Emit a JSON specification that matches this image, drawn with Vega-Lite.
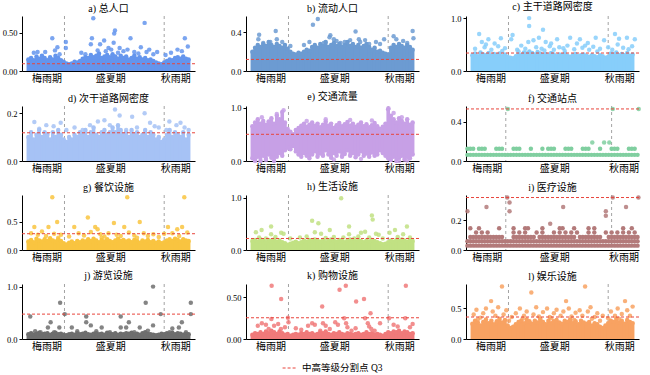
{
"$schema": "https://vega.github.io/schema/vega-lite/v6.json",
"padding": {"left": 2, "top": 2, "right": 2, "bottom": 0},
"config": {
 "font": "Liberation Serif, Noto Sans CJK SC",
 "view": {"stroke": null},
 "axis": {"domainColor": "#000", "domainWidth": 1, "tickColor": "#000", "labelColor": "#000", "grid": false, "labelFontSize": 8.5, "labelFont": "Liberation Serif, Noto Sans CJK SC"},
 "axisX": {"ticks": false, "labelPadding": 2, "labelFontSize": 10},
 "axisY": {"tickSize": 3, "labelPadding": 2},
 "title": {"fontSize": 10, "fontWeight": "normal", "offset": 2, "font": "Liberation Serif, Noto Sans CJK SC", "color": "#000"},
 "legend": {"orient": "none", "legendX": 260, "legendY": 344, "direction": "horizontal", "symbolType": "stroke", "symbolDash": [3, 2], "symbolStrokeWidth": 1, "symbolSize": 220, "labelFontSize": 9.5, "labelFont": "Liberation Serif, Noto Sans CJK SC"}
},
"datasets": {
 "sep": [{"t": 13.3}, {"t": 50}],
 "thr": [
  {"p": "a", "v": 0.095, "k": "中高等级分割点 Q3"}, {"p": "b", "v": 0.12, "k": "中高等级分割点 Q3"}, {"p": "c", "v": 0.34, "k": "中高等级分割点 Q3"},
  {"p": "d", "v": 0.118, "k": "中高等级分割点 Q3"}, {"p": "e", "v": 0.5, "k": "中高等级分割点 Q3"}, {"p": "f", "v": 0.53, "k": "中高等级分割点 Q3"},
  {"p": "g", "v": 0.29, "k": "中高等级分割点 Q3"}, {"p": "h", "v": 0.22, "k": "中高等级分割点 Q3"}, {"p": "i", "v": 0.353, "k": "中高等级分割点 Q3"},
  {"p": "j", "v": 0.475, "k": "中高等级分割点 Q3"}, {"p": "k", "v": 0.255, "k": "中高等级分割点 Q3"}, {"p": "l", "v": 0.36, "k": "中高等级分割点 Q3"}
 ],
 "band": [
  {"t":0,"a":0.15,"b":0.2,"c":0.3,"d":0.1,"e":0.65,"e0":0.05,"g":0.15,"h":0.17,"j":0.09,"k":0.05,"l":0.25,"f2":0.125},
  {"t":1,"a":0.17,"b":0.24,"c":0.33,"d":0.12,"e":0.72,"e0":0.02,"g":0.18,"h":0.19,"j":0.11,"k":0.07,"l":0.3,"f2":0.125,"i3":0.088,"i5":0.147},
  {"t":2,"a":0.14,"b":0.27,"c":0.28,"d":0.09,"e":0.78,"e0":0.08,"g":0.14,"h":0.16,"j":0.08,"k":0.06,"l":0.27,"f2":0.125,"i3":0.088},
  {"t":3,"a":0.19,"b":0.25,"c":0.35,"d":0.11,"e":0.7,"e0":0,"g":0.2,"h":0.2,"j":0.1,"k":0.08,"l":0.22,"i3":0.088,"i4":0.118},
  {"t":4,"a":0.16,"b":0.28,"c":0.31,"d":0.13,"e":0.75,"e0":0.1,"g":0.17,"h":0.18,"j":0.12,"k":0.06,"l":0.28,"f2":0.125,"i3":0.088,"i5":0.147},
  {"t":5,"a":0.2,"b":0.26,"c":0.3,"d":0.1,"e":0.68,"e0":0.04,"g":0.15,"h":0.15,"j":0.09,"k":0.09,"l":0.32,"f2":0.125,"i3":0.088,"i4":0.118},
  {"t":6,"a":0.17,"b":0.3,"c":0.34,"d":0.12,"e":0.74,"e0":0.12,"g":0.19,"h":0.19,"j":0.1,"k":0.07,"l":0.26,"f2":0.125,"i3":0.088},
  {"t":7,"a":0.14,"b":0.27,"c":0.29,"d":0.11,"e":0.8,"e0":0.06,"g":0.16,"h":0.17,"j":0.11,"k":0.1,"l":0.3,"i3":0.088,"i4":0.118},
  {"t":8,"a":0.18,"b":0.25,"c":0.32,"d":0.09,"e":0.7,"e0":0,"g":0.21,"h":0.2,"j":0.08,"k":0.08,"l":0.24,"i3":0.088},
  {"t":9,"a":0.15,"b":0.28,"c":0.3,"d":0.12,"e":0.85,"e0":0.08,"g":0.17,"h":0.16,"j":0.1,"k":0.06,"l":0.29,"i3":0.088},
  {"t":10,"a":0.2,"b":0.26,"c":0.33,"d":0.1,"e":0.78,"e0":0.15,"g":0.15,"h":0.18,"j":0.12,"k":0.09,"l":0.33,"f2":0.125,"i3":0.088},
  {"t":11,"a":0.17,"b":0.24,"c":0.28,"d":0.13,"e":0.92,"e0":0.1,"g":0.19,"h":0.15,"j":0.09,"k":0.07,"l":0.27,"f2":0.125,"i3":0.088,"i5":0.147},
  {"t":12,"a":0.14,"b":0.27,"c":0.31,"d":0.11,"e":0.72,"e0":0.2,"g":0.16,"h":0.13,"j":0.1,"k":0.05,"l":0.31,"f2":0.125,"i3":0.088},
  {"t":13,"a":0.12,"b":0.23,"c":0.27,"d":0.09,"e":0.6,"e0":0.25,"g":0.12,"h":0.1,"j":0.08,"k":0.06,"l":0.22},
  {"t":14,"a":0.1,"b":0.2,"c":0.25,"d":0.08,"e":0.55,"e0":0.22,"g":0.1,"h":0.12,"j":0.07,"k":0.04,"l":0.18},
  {"t":15,"a":0.09,"b":0.18,"c":0.24,"d":0.1,"e":0.5,"e0":0.28,"g":0.13,"h":0.14,"j":0.09,"k":0.05,"l":0.2},
  {"t":16,"a":0.1,"b":0.17,"c":0.28,"d":0.09,"e":0.58,"e0":0.18,"g":0.15,"h":0.16,"j":0.1,"k":0.06,"l":0.24,"f2":0.125,"i3":0.088,"i4":0.118,"i5":0.147},
  {"t":17,"a":0.12,"b":0.19,"c":0.31,"d":0.11,"e":0.62,"e0":0.12,"g":0.12,"h":0.13,"j":0.08,"k":0.05,"l":0.28,"f2":0.125,"i3":0.088},
  {"t":18,"a":0.11,"b":0.18,"c":0.3,"d":0.1,"e":0.66,"e0":0.08,"g":0.16,"h":0.15,"j":0.11,"k":0.07,"l":0.3,"f2":0.125,"i3":0.088,"i4":0.118},
  {"t":19,"a":0.13,"b":0.2,"c":0.35,"d":0.12,"e":0.7,"e0":0.15,"g":0.14,"h":0.18,"j":0.09,"k":0.06,"l":0.26,"i3":0.088},
  {"t":20,"a":0.16,"b":0.22,"c":0.33,"d":0.11,"e":0.64,"e0":0.1,"g":0.17,"h":0.16,"j":0.1,"k":0.08,"l":0.32,"i3":0.088,"i4":0.118,"i5":0.147},
  {"t":21,"a":0.18,"b":0.21,"c":0.37,"d":0.13,"e":0.68,"e0":0.05,"g":0.15,"h":0.19,"j":0.12,"k":0.06,"l":0.29,"i3":0.088,"i5":0.147},
  {"t":22,"a":0.17,"b":0.25,"c":0.34,"d":0.1,"e":0.72,"e0":0.12,"g":0.19,"h":0.17,"j":0.09,"k":0.07,"l":0.25,"f2":0.125,"i3":0.088},
  {"t":23,"a":0.21,"b":0.27,"c":0.31,"d":0.12,"e":0.66,"e0":0.18,"g":0.16,"h":0.2,"j":0.08,"k":0.05,"l":0.3,"i3":0.088},
  {"t":24,"a":0.18,"b":0.24,"c":0.36,"d":0.14,"e":0.7,"e0":0.08,"g":0.2,"h":0.18,"j":0.1,"k":0.06,"l":0.27,"i4":0.118},
  {"t":25,"a":0.2,"b":0.28,"c":0.33,"d":0.11,"e":0.63,"e0":0.14,"g":0.17,"h":0.16,"j":0.11,"k":0.08,"l":0.33,"i3":0.088},
  {"t":26,"a":0.23,"b":0.26,"c":0.3,"d":0.1,"e":0.68,"e0":0.1,"g":0.14,"h":0.19,"j":0.09,"k":0.07,"l":0.28,"f2":0.125,"i3":0.088,"i4":0.118,"i5":0.147},
  {"t":27,"a":0.17,"b":0.3,"c":0.32,"d":0.12,"e":0.74,"e0":0.2,"g":0.18,"h":0.15,"j":0.1,"k":0.09,"l":0.24,"i3":0.088},
  {"t":28,"a":0.19,"b":0.25,"c":0.29,"d":0.13,"e":0.66,"e0":0.12,"g":0.15,"h":0.17,"j":0.08,"k":0.06,"l":0.3,"f2":0.125,"i3":0.088},
  {"t":29,"a":0.21,"b":0.27,"c":0.34,"d":0.11,"e":0.7,"e0":0.06,"g":0.19,"h":0.2,"j":0.12,"k":0.05,"l":0.26,"f2":0.125,"i3":0.088},
  {"t":30,"a":0.18,"b":0.29,"c":0.31,"d":0.12,"e":0.62,"e0":0.15,"g":0.16,"h":0.18,"j":0.1,"k":0.07,"l":0.29,"f2":0.125,"i3":0.088,"i4":0.118},
  {"t":31,"a":0.22,"b":0.26,"c":0.28,"d":0.14,"e":0.67,"e0":0.1,"g":0.14,"h":0.16,"j":0.09,"k":0.06,"l":0.31,"i3":0.088},
  {"t":32,"a":0.19,"b":0.28,"c":0.31,"d":0.12,"e":0.71,"e0":0.18,"g":0.17,"h":0.19,"j":0.11,"k":0.08,"l":0.27,"i3":0.088,"i4":0.118,"i5":0.147},
  {"t":33,"a":0.16,"b":0.25,"c":0.3,"d":0.15,"e":0.65,"e0":0.08,"g":0.2,"h":0.17,"j":0.08,"k":0.06,"l":0.25,"i3":0.088,"i5":0.147},
  {"t":34,"a":0.2,"b":0.27,"c":0.33,"d":0.13,"e":0.69,"e0":0.13,"g":0.16,"h":0.15,"j":0.1,"k":0.05,"l":0.3,"f2":0.125,"i3":0.088,"i4":0.118},
  {"t":35,"a":0.17,"b":0.3,"c":0.29,"d":0.11,"e":0.73,"e0":0.2,"g":0.18,"h":0.18,"j":0.09,"k":0.07,"l":0.28,"f2":0.125,"i3":0.088},
  {"t":36,"a":0.19,"b":0.26,"c":0.27,"d":0.12,"e":0.66,"e0":0.1,"g":0.15,"h":0.2,"j":0.11,"k":0.06,"l":0.32,"f2":0.125,"i3":0.088,"i4":0.118},
  {"t":37,"a":0.15,"b":0.28,"c":0.3,"d":0.1,"e":0.7,"e0":0.15,"g":0.17,"h":0.17,"j":0.1,"k":0.05,"l":0.26,"i3":0.088,"i5":0.147},
  {"t":38,"a":0.17,"b":0.25,"c":0.32,"d":0.13,"e":0.64,"e0":0.07,"g":0.14,"h":0.16,"j":0.12,"k":0.06,"l":0.29,"i4":0.118},
  {"t":39,"a":0.2,"b":0.27,"c":0.28,"d":0.11,"e":0.68,"e0":0.12,"g":0.18,"h":0.19,"j":0.09,"k":0.07,"l":0.24,"i3":0.088},
  {"t":40,"a":0.16,"b":0.24,"c":0.3,"d":0.12,"e":0.72,"e0":0.18,"g":0.16,"h":0.17,"j":0.1,"k":0.05,"l":0.3,"f2":0.125,"i3":0.088},
  {"t":41,"a":0.18,"b":0.26,"c":0.31,"d":0.1,"e":0.65,"e0":0.1,"g":0.13,"h":0.15,"j":0.08,"k":0.06,"l":0.27,"f2":0.125,"i3":0.088},
  {"t":42,"a":0.15,"b":0.28,"c":0.29,"d":0.11,"e":0.69,"e0":0.14,"g":0.17,"h":0.18,"j":0.11,"k":0.08,"l":0.25,"f2":0.125,"i3":0.088,"i4":0.118,"i5":0.147},
  {"t":43,"a":0.17,"b":0.25,"c":0.27,"d":0.13,"e":0.63,"e0":0.08,"g":0.15,"h":0.16,"j":0.13,"k":0.06,"l":0.28,"i3":0.088},
  {"t":44,"a":0.14,"b":0.22,"c":0.3,"d":0.1,"e":0.67,"e0":0.16,"g":0.18,"h":0.19,"j":0.1,"k":0.07,"l":0.22,"i3":0.088,"i4":0.118,"i5":0.147},
  {"t":45,"a":0.15,"b":0.24,"c":0.28,"d":0.12,"e":0.71,"e0":0.1,"g":0.14,"h":0.17,"j":0.09,"k":0.05,"l":0.26,"i3":0.088},
  {"t":46,"a":0.13,"b":0.2,"c":0.26,"d":0.11,"e":0.65,"e0":0.12,"g":0.16,"h":0.15,"j":0.08,"k":0.06,"l":0.24,"f2":0.125,"i3":0.088},
  {"t":47,"a":0.11,"b":0.21,"c":0.3,"d":0.09,"e":0.6,"e0":0.2,"g":0.13,"h":0.13,"j":0.07,"k":0.05,"l":0.2},
  {"t":48,"a":0.1,"b":0.19,"c":0.28,"d":0.1,"e":0.64,"e0":0.15,"g":0.15,"h":0.11,"j":0.08,"k":0.04,"l":0.18,"i4":0.118},
  {"t":49,"a":0.09,"b":0.18,"c":0.25,"d":0.08,"e":0.7,"e0":0.1,"g":0.12,"h":0.12,"j":0.1,"k":0.06,"l":0.22,"i3":0.088},
  {"t":50,"a":0.11,"b":0.17,"c":0.27,"d":0.09,"e":0.97,"e0":0.05,"g":0.14,"h":0.15,"j":0.09,"k":0.08,"l":0.26,"f2":0.125,"i3":0.088,"i4":0.118},
  {"t":51,"a":0.13,"b":0.24,"c":0.33,"d":0.11,"e":0.85,"e0":0.02,"g":0.17,"h":0.18,"j":0.11,"k":0.07,"l":0.3,"f2":0.125,"i3":0.088},
  {"t":52,"a":0.15,"b":0.27,"c":0.31,"d":0.13,"e":0.78,"e0":0.08,"g":0.19,"h":0.16,"j":0.1,"k":0.09,"l":0.28,"f2":0.125,"i3":0.088,"i4":0.118},
  {"t":53,"a":0.14,"b":0.25,"c":0.35,"d":0.1,"e":0.72,"e0":0,"g":0.16,"h":0.19,"j":0.12,"k":0.08,"l":0.33,"i3":0.088},
  {"t":54,"a":0.17,"b":0.28,"c":0.3,"d":0.12,"e":0.8,"e0":0.06,"g":0.2,"h":0.17,"j":0.09,"k":0.1,"l":0.27,"i3":0.088,"i4":0.118,"i5":0.147},
  {"t":55,"a":0.18,"b":0.26,"c":0.32,"d":0.11,"e":0.75,"e0":0.1,"g":0.18,"h":0.2,"j":0.11,"k":0.07,"l":0.3,"i3":0.088},
  {"t":56,"a":0.16,"b":0.24,"c":0.3,"d":0.1,"e":0.7,"e0":0.03,"g":0.15,"h":0.18,"j":0.1,"k":0.09,"l":0.25,"f2":0.125,"i3":0.088,"i4":0.118},
  {"t":57,"a":0.19,"b":0.27,"c":0.34,"d":0.12,"e":0.78,"e0":0.08,"g":0.19,"h":0.16,"j":0.08,"k":0.08,"l":0.31,"f2":0.125,"i3":0.088,"i5":0.147},
  {"t":58,"a":0.16,"b":0.25,"c":0.29,"d":0.09,"e":0.68,"e0":0.05,"g":0.17,"h":0.19,"j":0.1,"k":0.06,"l":0.28,"f2":0.125,"i3":0.088,"i4":0.118},
  {"t":59,"a":0.15,"b":0.22,"c":0.31,"d":0.11,"e":0.72,"e0":0.12,"g":0.16,"h":0.17,"j":0.09,"k":0.07,"l":0.26,"i3":0.088}
 ],
 "pts": [
  {"p":"a","t":8.8,"v":0.43},{"p":"a","t":10.7,"v":0.31},{"p":"a","t":13.8,"v":0.38},{"p":"a","t":13.8,"v":0.3},{"p":"a","t":23.9,"v":0.69},{"p":"a","t":31.9,"v":0.53},{"p":"a","t":31.6,"v":0.49},{"p":"a","t":31.4,"v":0.37},{"p":"a","t":23.4,"v":0.43},{"p":"a","t":23,"v":0.35},{"p":"a","t":26.4,"v":0.35},{"p":"a","t":27.9,"v":0.4},{"p":"a","t":37.6,"v":0.43},{"p":"a","t":42.8,"v":0.63},{"p":"a","t":44.5,"v":0.28},{"p":"a","t":41.4,"v":0.31},{"p":"a","t":47.4,"v":0.25},{"p":"a","t":57.6,"v":0.43},{"p":"a","t":58.7,"v":0.32},{"p":"a","t":54.9,"v":0.28},{"p":"a","t":6.2,"v":0.25},{"p":"a","t":3.4,"v":0.25},{"p":"a","t":33.6,"v":0.3},{"p":"a","t":29.5,"v":0.3},{"p":"a","t":2,"v":0.24},{"p":"a","t":9.8,"v":0.27},{"p":"a","t":19.5,"v":0.24},{"p":"a","t":25.5,"v":0.27},{"p":"a","t":28.5,"v":0.26},{"p":"a","t":35,"v":0.26},{"p":"a","t":36.5,"v":0.28},{"p":"a","t":39,"v":0.25},{"p":"a","t":43.5,"v":0.25},{"p":"a","t":52.5,"v":0.24},{"p":"a","t":56.5,"v":0.26},{"p":"a","t":30.5,"v":0.28},{"p":"a","t":11.5,"v":0.22},{"p":"a","t":21,"v":0.22},{"p":"a","t":33,"v":0.24},{"p":"a","t":40.5,"v":0.23},{"p":"a","t":46,"v":0.22},{"p":"a","t":50.5,"v":0.21},
  {"p":"b","t":22.3,"v":0.48},{"p":"b","t":24.1,"v":0.54},{"p":"b","t":2.5,"v":0.375},{"p":"b","t":2.2,"v":0.33},{"p":"b","t":8.6,"v":0.415},{"p":"b","t":9,"v":0.33},{"p":"b","t":6.6,"v":0.3},{"p":"b","t":28.7,"v":0.37},{"p":"b","t":28.4,"v":0.35},{"p":"b","t":38,"v":0.41},{"p":"b","t":39.7,"v":0.3},{"p":"b","t":39.2,"v":0.33},{"p":"b","t":48.5,"v":0.33},{"p":"b","t":52,"v":0.36},{"p":"b","t":53,"v":0.33},{"p":"b","t":59,"v":0.415},{"p":"b","t":59.3,"v":0.34},{"p":"b","t":34,"v":0.3},{"p":"b","t":26.3,"v":0.29},{"p":"b","t":19,"v":0.27},{"p":"b","t":43,"v":0.28},{"p":"b","t":4,"v":0.29},{"p":"b","t":11,"v":0.3},{"p":"b","t":14,"v":0.26},{"p":"b","t":31,"v":0.31},{"p":"b","t":32.5,"v":0.29},{"p":"b","t":36,"v":0.32},{"p":"b","t":41.5,"v":0.32},{"p":"b","t":45.5,"v":0.3},{"p":"b","t":55.5,"v":0.31},{"p":"b","t":57,"v":0.29},{"p":"b","t":21,"v":0.3},{"p":"b","t":30,"v":0.33},{"p":"b","t":47,"v":0.28},
  {"p":"c","t":20.9,"v":1.0},{"p":"c","t":20.9,"v":0.85},{"p":"c","t":26,"v":0.78},{"p":"c","t":14.8,"v":0.68},{"p":"c","t":2.5,"v":0.7},{"p":"c","t":3.5,"v":0.55},{"p":"c","t":5.9,"v":0.6},{"p":"c","t":8.2,"v":0.52},{"p":"c","t":10.5,"v":0.62},{"p":"c","t":14.3,"v":0.6},{"p":"c","t":20.6,"v":0.55},{"p":"c","t":22.5,"v":0.58},{"p":"c","t":24.5,"v":0.63},{"p":"c","t":27,"v":0.55},{"p":"c","t":31.2,"v":0.6},{"p":"c","t":32,"v":0.45},{"p":"c","t":36,"v":0.63},{"p":"c","t":39.6,"v":0.6},{"p":"c","t":41.5,"v":0.48},{"p":"c","t":45.4,"v":0.63},{"p":"c","t":48.5,"v":0.58},{"p":"c","t":52.5,"v":0.7},{"p":"c","t":54,"v":0.61},{"p":"c","t":56.9,"v":0.63},{"p":"c","t":59.8,"v":0.6},{"p":"c","t":1,"v":0.42},{"p":"c","t":4.5,"v":0.45},{"p":"c","t":7,"v":0.4},{"p":"c","t":9.5,"v":0.47},{"p":"c","t":12,"v":0.43},{"p":"c","t":16.5,"v":0.4},{"p":"c","t":18,"v":0.48},{"p":"c","t":19.5,"v":0.42},{"p":"c","t":23.5,"v":0.45},{"p":"c","t":25.5,"v":0.42},{"p":"c","t":28.5,"v":0.47},{"p":"c","t":30,"v":0.4},{"p":"c","t":33.5,"v":0.43},{"p":"c","t":35,"v":0.48},{"p":"c","t":37.5,"v":0.41},{"p":"c","t":40.5,"v":0.44},{"p":"c","t":43,"v":0.4},{"p":"c","t":44.5,"v":0.46},{"p":"c","t":47,"v":0.42},{"p":"c","t":50,"v":0.45},{"p":"c","t":51.5,"v":0.4},{"p":"c","t":53.5,"v":0.5},{"p":"c","t":55.5,"v":0.44},{"p":"c","t":57.5,"v":0.41},{"p":"c","t":58.8,"v":0.47},{"p":"c","t":11,"v":0.38},{"p":"c","t":17,"v":0.37},{"p":"c","t":26.5,"v":0.39},{"p":"c","t":34,"v":0.38},{"p":"c","t":46,"v":0.37},{"p":"c","t":29,"v":0.52},{"p":"c","t":38.5,"v":0.52},{"p":"c","t":5,"v":0.5},{"p":"c","t":42.5,"v":0.53},
  {"p":"d","t":2.2,"v":0.163},{"p":"d","t":11.9,"v":0.16},{"p":"d","t":9.3,"v":0.145},{"p":"d","t":6.6,"v":0.15},{"p":"d","t":22.7,"v":0.15},{"p":"d","t":25.6,"v":0.165},{"p":"d","t":31.9,"v":0.215},{"p":"d","t":33.6,"v":0.19},{"p":"d","t":38.2,"v":0.185},{"p":"d","t":42.8,"v":0.2},{"p":"d","t":44.8,"v":0.16},{"p":"d","t":46.5,"v":0.145},{"p":"d","t":51.9,"v":0.165},{"p":"d","t":50.8,"v":0.13},{"p":"d","t":54.5,"v":0.15},{"p":"d","t":57.5,"v":0.14},{"p":"d","t":28,"v":0.17},{"p":"d","t":36,"v":0.13},{"p":"d","t":20,"v":0.13},{"p":"d","t":4,"v":0.135},{"p":"d","t":14,"v":0.13},{"p":"d","t":17,"v":0.14},{"p":"d","t":30,"v":0.15},{"p":"d","t":40,"v":0.14},{"p":"d","t":48,"v":0.14},{"p":"d","t":56,"v":0.16},{"p":"d","t":59,"v":0.13},
  {"p":"e","t":11.5,"v":0.95},{"p":"e","t":50.1,"v":0.99},{"p":"e","t":9,"v":0.88},{"p":"e","t":3.5,"v":0.82},{"p":"e","t":52,"v":0.9},{"p":"e","t":55,"v":0.82},{"p":"e","t":27,"v":0.78},{"p":"e","t":36,"v":0.77},{"p":"e","t":44,"v":0.76},{"p":"e","t":20,"v":0.75},{"p":"e","t":1,"v":0.0},{"p":"e","t":5,"v":0.02},{"p":"e","t":54,"v":0.0},{"p":"e","t":57,"v":0.01},{"p":"e","t":30,"v":0.03},{"p":"e","t":40,"v":0.04},
  {"p":"f","t":14,"v":0.53},{"p":"f","t":50.4,"v":0.53},{"p":"f","t":59.4,"v":0.53},{"p":"f","t":43.3,"v":0.1875},{"p":"f","t":47.4,"v":0.1875},{"p":"f","t":49.2,"v":0.1875},
  {"p":"g","t":8.8,"v":0.94},{"p":"g","t":36.4,"v":0.94},{"p":"g","t":57.4,"v":0.94},{"p":"g","t":21.9,"v":0.58},{"p":"g","t":10.6,"v":0.5},{"p":"g","t":31.5,"v":0.48},{"p":"g","t":41,"v":0.5},{"p":"g","t":2.2,"v":0.41},{"p":"g","t":7.4,"v":0.41},{"p":"g","t":16.9,"v":0.41},{"p":"g","t":24.6,"v":0.41},{"p":"g","t":25.5,"v":0.37},{"p":"g","t":35.3,"v":0.41},{"p":"g","t":51.4,"v":0.41},{"p":"g","t":56.6,"v":0.41},{"p":"g","t":54.8,"v":0.37},{"p":"g","t":1,"v":0.3},{"p":"g","t":3.5,"v":0.27},{"p":"g","t":5,"v":0.33},{"p":"g","t":6.5,"v":0.25},{"p":"g","t":9.5,"v":0.29},{"p":"g","t":12,"v":0.27},{"p":"g","t":15,"v":0.24},{"p":"g","t":18.5,"v":0.3},{"p":"g","t":20.5,"v":0.26},{"p":"g","t":23,"v":0.32},{"p":"g","t":26.5,"v":0.28},{"p":"g","t":28,"v":0.24},{"p":"g","t":29.5,"v":0.3},{"p":"g","t":32.5,"v":0.27},{"p":"g","t":34,"v":0.25},{"p":"g","t":37,"v":0.31},{"p":"g","t":39,"v":0.26},{"p":"g","t":42.5,"v":0.3},{"p":"g","t":44,"v":0.25},{"p":"g","t":46,"v":0.28},{"p":"g","t":48,"v":0.23},{"p":"g","t":50,"v":0.29},{"p":"g","t":53,"v":0.3},{"p":"g","t":55.5,"v":0.25},{"p":"g","t":58.5,"v":0.31},{"p":"g","t":27,"v":0.22},{"p":"g","t":11,"v":0.22},{"p":"g","t":40,"v":0.22},
  {"p":"h","t":32.7,"v":0.99},{"p":"h","t":44,"v":0.66},{"p":"h","t":44.3,"v":0.58},{"p":"h","t":22,"v":0.56},{"p":"h","t":24.3,"v":0.51},{"p":"h","t":6.9,"v":0.45},{"p":"h","t":35.6,"v":0.45},{"p":"h","t":56.9,"v":0.45},{"p":"h","t":1.3,"v":0.34},{"p":"h","t":3.4,"v":0.38},{"p":"h","t":6.9,"v":0.3},{"p":"h","t":10.6,"v":0.33},{"p":"h","t":11.5,"v":0.31},{"p":"h","t":23,"v":0.34},{"p":"h","t":25.3,"v":0.31},{"p":"h","t":28.5,"v":0.38},{"p":"h","t":35.6,"v":0.3},{"p":"h","t":40,"v":0.33},{"p":"h","t":41.5,"v":0.35},{"p":"h","t":45.5,"v":0.31},{"p":"h","t":46.5,"v":0.29},{"p":"h","t":50.5,"v":0.33},{"p":"h","t":52.5,"v":0.38},{"p":"h","t":55.5,"v":0.3},{"p":"h","t":2.5,"v":0.24},{"p":"h","t":5,"v":0.22},{"p":"h","t":8.5,"v":0.25},{"p":"h","t":14,"v":0.22},{"p":"h","t":17.5,"v":0.24},{"p":"h","t":20,"v":0.26},{"p":"h","t":27,"v":0.23},{"p":"h","t":30,"v":0.25},{"p":"h","t":33.5,"v":0.24},{"p":"h","t":37.5,"v":0.22},{"p":"h","t":39,"v":0.26},{"p":"h","t":43,"v":0.24},{"p":"h","t":48,"v":0.22},{"p":"h","t":53.5,"v":0.25},{"p":"h","t":58,"v":0.24},
  {"p":"i","t":0,"v":0.26},{"p":"i","t":14.6,"v":0.26},{"p":"i","t":48,"v":0.26},{"p":"i","t":48,"v":0.23},{"p":"i","t":6.6,"v":0.29},{"p":"i","t":33.2,"v":0.29},{"p":"i","t":55,"v":0.29},{"p":"i","t":14.6,"v":0.32},{"p":"i","t":13.8,"v":0.353},{"p":"i","t":50.4,"v":0.353},{"p":"i","t":59.3,"v":0.353},{"p":"i","t":28.7,"v":0.176},
  {"p":"j","t":0.7,"v":0.43},{"p":"j","t":4.5,"v":0.13},{"p":"j","t":7.2,"v":0.22},{"p":"j","t":8.2,"v":0.32},{"p":"j","t":9.5,"v":0.13},{"p":"j","t":11.4,"v":0.22},{"p":"j","t":11.7,"v":0.69},{"p":"j","t":13.4,"v":0.475},{"p":"j","t":16,"v":0.22},{"p":"j","t":21.3,"v":0.32},{"p":"j","t":21.3,"v":0.43},{"p":"j","t":23,"v":0.26},{"p":"j","t":27,"v":0.22},{"p":"j","t":30,"v":0.13},{"p":"j","t":34,"v":0.43},{"p":"j","t":34,"v":0.22},{"p":"j","t":36,"v":0.22},{"p":"j","t":37,"v":0.32},{"p":"j","t":39,"v":0.13},{"p":"j","t":41,"v":0.22},{"p":"j","t":43.2,"v":0.69},{"p":"j","t":45.9,"v":1.0},{"p":"j","t":45.9,"v":0.26},{"p":"j","t":48.7,"v":0.475},{"p":"j","t":52,"v":0.13},{"p":"j","t":55.4,"v":0.22},{"p":"j","t":56.5,"v":0.32},{"p":"j","t":58,"v":0.13},{"p":"j","t":59.8,"v":0.69},{"p":"j","t":59.8,"v":0.475},{"p":"j","t":2.5,"v":0.15},{"p":"j","t":18,"v":0.15},{"p":"j","t":25,"v":0.15},{"p":"j","t":44,"v":0.16},{"p":"j","t":53,"v":0.2},
  {"p":"k","t":7.1,"v":0.64},{"p":"k","t":10.6,"v":0.48},{"p":"k","t":32.1,"v":0.59},{"p":"k","t":34.4,"v":0.64},{"p":"k","t":25.7,"v":0.39},{"p":"k","t":38.2,"v":0.45},{"p":"k","t":41.1,"v":0.48},{"p":"k","t":56.5,"v":0.64},{"p":"k","t":43.5,"v":0.31},{"p":"k","t":2,"v":0.16},{"p":"k","t":3.5,"v":0.19},{"p":"k","t":5,"v":0.17},{"p":"k","t":7,"v":0.24},{"p":"k","t":8,"v":0.16},{"p":"k","t":9.5,"v":0.18},{"p":"k","t":10.5,"v":0.12},{"p":"k","t":13.1,"v":0.255},{"p":"k","t":13.3,"v":0.2},{"p":"k","t":16,"v":0.13},{"p":"k","t":20.5,"v":0.16},{"p":"k","t":22,"v":0.19},{"p":"k","t":23,"v":0.17},{"p":"k","t":26,"v":0.19},{"p":"k","t":27,"v":0.16},{"p":"k","t":28.5,"v":0.12},{"p":"k","t":30.5,"v":0.2},{"p":"k","t":31.5,"v":0.17},{"p":"k","t":33.8,"v":0.25},{"p":"k","t":34.5,"v":0.19},{"p":"k","t":35,"v":0.14},{"p":"k","t":38,"v":0.13},{"p":"k","t":41.5,"v":0.25},{"p":"k","t":42.5,"v":0.19},{"p":"k","t":43,"v":0.15},{"p":"k","t":43.8,"v":0.12},{"p":"k","t":47,"v":0.19},{"p":"k","t":50.3,"v":0.25},{"p":"k","t":52,"v":0.17},{"p":"k","t":53.5,"v":0.15},{"p":"k","t":56.3,"v":0.25},{"p":"k","t":58,"v":0.14},{"p":"k","t":59,"v":0.18},{"p":"k","t":6,"v":0.12},{"p":"k","t":18,"v":0.11},{"p":"k","t":45,"v":0.1},{"p":"k","t":25,"v":0.1},{"p":"k","t":36.5,"v":0.1},{"p":"k","t":12,"v":0.14},
  {"p":"l","t":10.9,"v":0.86},{"p":"l","t":21.7,"v":0.76},{"p":"l","t":41.5,"v":0.86},{"p":"l","t":6.9,"v":0.62},{"p":"l","t":34.5,"v":0.62},{"p":"l","t":56.2,"v":0.62},{"p":"l","t":0.5,"v":0.4},{"p":"l","t":1.5,"v":0.48},{"p":"l","t":3,"v":0.35},{"p":"l","t":4,"v":0.42},{"p":"l","t":5,"v":0.5},{"p":"l","t":7.5,"v":0.45},{"p":"l","t":8.5,"v":0.38},{"p":"l","t":9.5,"v":0.52},{"p":"l","t":11.5,"v":0.4},{"p":"l","t":12.5,"v":0.47},{"p":"l","t":14.5,"v":0.36},{"p":"l","t":16,"v":0.42},{"p":"l","t":17.5,"v":0.5},{"p":"l","t":19,"v":0.38},{"p":"l","t":20,"v":0.45},{"p":"l","t":22.5,"v":0.4},{"p":"l","t":23.5,"v":0.52},{"p":"l","t":24.5,"v":0.37},{"p":"l","t":26,"v":0.44},{"p":"l","t":27.5,"v":0.5},{"p":"l","t":28.5,"v":0.36},{"p":"l","t":30,"v":0.42},{"p":"l","t":31,"v":0.48},{"p":"l","t":32.5,"v":0.38},{"p":"l","t":33.5,"v":0.45},{"p":"l","t":35.5,"v":0.5},{"p":"l","t":36.5,"v":0.37},{"p":"l","t":38,"v":0.43},{"p":"l","t":39.5,"v":0.47},{"p":"l","t":40.5,"v":0.38},{"p":"l","t":42.5,"v":0.45},{"p":"l","t":43.5,"v":0.52},{"p":"l","t":45,"v":0.36},{"p":"l","t":46,"v":0.42},{"p":"l","t":48,"v":0.38},{"p":"l","t":51,"v":0.45},{"p":"l","t":52.5,"v":0.38},{"p":"l","t":53.5,"v":0.5},{"p":"l","t":55,"v":0.41},{"p":"l","t":57,"v":0.47},{"p":"l","t":58,"v":0.38},{"p":"l","t":59,"v":0.53},{"p":"l","t":2,"v":0.32},{"p":"l","t":13.5,"v":0.3},{"p":"l","t":18.5,"v":0.33},{"p":"l","t":25,"v":0.32},{"p":"l","t":29,"v":0.34},{"p":"l","t":37.5,"v":0.31},{"p":"l","t":44,"v":0.33},{"p":"l","t":47,"v":0.3},{"p":"l","t":50,"v":0.34},{"p":"l","t":54,"v":0.33}
 ]
},
"columns": 3,
"spacing": {"row": 8, "column": 30},
"concat": [
 {"width": 173, "height": 55, "title": "a) 总人口", "layer": [
  {"data": {"name": "sep"}, "mark": {"type": "rule", "color": "#8c8c8c", "strokeDash": [3, 3], "strokeWidth": 0.8}, "encoding": {"x": {"field": "t", "type": "quantitative", "scale": {"domain": [-0.5, 59.5], "nice": false, "zero": false}, "axis": {"title": null, "values": [6.7, 30.1, 54.1], "labelExpr": "datum.value < 15 ? '梅雨期' : datum.value < 45 ? '盛夏期' : '秋雨期'"}}}},
  {"data": {"name": "band"}, "mark": {"type": "bar", "width": 3.6, "color": "#6495ed"}, "encoding": {"x": {"field": "t", "type": "quantitative"}, "y": {"field": "a", "type": "quantitative", "scale": {"domain": [0, 0.72], "nice": false}, "axis": {"title": null, "values": [0, 0.25, 0.5], "format": ".2f"}}}},
  {"data": {"name": "band"}, "mark": {"type": "circle", "size": 20, "color": "#6495ed", "opacity": 1}, "encoding": {"x": {"field": "t", "type": "quantitative"}, "y": {"field": "a", "type": "quantitative"}}},
  {"data": {"name": "pts"}, "transform": [{"filter": "datum.p == 'a'"}], "mark": {"type": "circle", "size": 20, "color": "#6495ed", "opacity": 0.85}, "encoding": {"x": {"field": "t", "type": "quantitative"}, "y": {"field": "v", "type": "quantitative"}}},
  {"data": {"name": "thr"}, "transform": [{"filter": "datum.p == 'a'"}], "mark": {"type": "rule", "strokeDash": [3, 2], "strokeWidth": 1}, "encoding": {"y": {"field": "v", "type": "quantitative"}, "stroke": {"field": "k", "type": "nominal", "scale": {"range": ["#e8453c"]}, "legend": {"title": null}}}}
 ]},
 {"width": 173, "height": 55, "title": "b) 流动人口", "layer": [
  {"data": {"name": "sep"}, "mark": {"type": "rule", "color": "#8c8c8c", "strokeDash": [3, 3], "strokeWidth": 0.8}, "encoding": {"x": {"field": "t", "type": "quantitative", "scale": {"domain": [-0.5, 59.5], "nice": false, "zero": false}, "axis": {"title": null, "values": [6.7, 30.1, 54.1], "labelExpr": "datum.value < 15 ? '梅雨期' : datum.value < 45 ? '盛夏期' : '秋雨期'"}}}},
  {"data": {"name": "band"}, "mark": {"type": "bar", "width": 3.6, "color": "#6c9bd2"}, "encoding": {"x": {"field": "t", "type": "quantitative"}, "y": {"field": "b", "type": "quantitative", "scale": {"domain": [0, 0.57], "nice": false}, "axis": {"title": null, "values": [0, 0.2, 0.4], "format": ".1f"}}}},
  {"data": {"name": "band"}, "mark": {"type": "circle", "size": 20, "color": "#6c9bd2", "opacity": 1}, "encoding": {"x": {"field": "t", "type": "quantitative"}, "y": {"field": "b", "type": "quantitative"}}},
  {"data": {"name": "pts"}, "transform": [{"filter": "datum.p == 'b'"}], "mark": {"type": "circle", "size": 20, "color": "#6c9bd2", "opacity": 0.85}, "encoding": {"x": {"field": "t", "type": "quantitative"}, "y": {"field": "v", "type": "quantitative"}}},
  {"data": {"name": "thr"}, "transform": [{"filter": "datum.p == 'b'"}], "mark": {"type": "rule", "strokeDash": [3, 2], "strokeWidth": 1}, "encoding": {"y": {"field": "v", "type": "quantitative"}, "stroke": {"field": "k", "type": "nominal", "scale": {"range": ["#e8453c"]}, "legend": {"title": null}}}}
 ]},
 {"width": 173, "height": 55, "title": "c) 主干道路网密度", "layer": [
  {"data": {"name": "sep"}, "mark": {"type": "rule", "color": "#8c8c8c", "strokeDash": [3, 3], "strokeWidth": 0.8}, "encoding": {"x": {"field": "t", "type": "quantitative", "scale": {"domain": [-0.5, 59.5], "nice": false, "zero": false}, "axis": {"title": null, "values": [6.7, 30.1, 54.1], "labelExpr": "datum.value < 15 ? '梅雨期' : datum.value < 45 ? '盛夏期' : '秋雨期'"}}}},
  {"data": {"name": "band"}, "mark": {"type": "bar", "width": 3.6, "color": "#87cefa"}, "encoding": {"x": {"field": "t", "type": "quantitative"}, "y": {"field": "c", "type": "quantitative", "scale": {"domain": [0, 1.04], "nice": false}, "axis": {"title": null, "values": [0, 0.5, 1], "format": ".1f"}}}},
  {"data": {"name": "band"}, "mark": {"type": "circle", "size": 20, "color": "#87cefa", "opacity": 1}, "encoding": {"x": {"field": "t", "type": "quantitative"}, "y": {"field": "c", "type": "quantitative"}}},
  {"data": {"name": "pts"}, "transform": [{"filter": "datum.p == 'c'"}], "mark": {"type": "circle", "size": 20, "color": "#87cefa", "opacity": 0.85}, "encoding": {"x": {"field": "t", "type": "quantitative"}, "y": {"field": "v", "type": "quantitative"}}},
  {"data": {"name": "thr"}, "transform": [{"filter": "datum.p == 'c'"}], "mark": {"type": "rule", "strokeDash": [3, 2], "strokeWidth": 1}, "encoding": {"y": {"field": "v", "type": "quantitative"}, "stroke": {"field": "k", "type": "nominal", "scale": {"range": ["#e8453c"]}, "legend": {"title": null}}}}
 ]},
 {"width": 173, "height": 55, "title": "d) 次干道路网密度", "layer": [
  {"data": {"name": "sep"}, "mark": {"type": "rule", "color": "#8c8c8c", "strokeDash": [3, 3], "strokeWidth": 0.8}, "encoding": {"x": {"field": "t", "type": "quantitative", "scale": {"domain": [-0.5, 59.5], "nice": false, "zero": false}, "axis": {"title": null, "values": [6.7, 30.1, 54.1], "labelExpr": "datum.value < 15 ? '梅雨期' : datum.value < 45 ? '盛夏期' : '秋雨期'"}}}},
  {"data": {"name": "band"}, "mark": {"type": "bar", "width": 3.6, "color": "#a6c2f5"}, "encoding": {"x": {"field": "t", "type": "quantitative"}, "y": {"field": "d", "type": "quantitative", "scale": {"domain": [0, 0.23], "nice": false}, "axis": {"title": null, "values": [0, 0.1, 0.2], "format": ".1f"}}}},
  {"data": {"name": "band"}, "mark": {"type": "circle", "size": 20, "color": "#a6c2f5", "opacity": 1}, "encoding": {"x": {"field": "t", "type": "quantitative"}, "y": {"field": "d", "type": "quantitative"}}},
  {"data": {"name": "pts"}, "transform": [{"filter": "datum.p == 'd'"}], "mark": {"type": "circle", "size": 20, "color": "#a6c2f5", "opacity": 0.85}, "encoding": {"x": {"field": "t", "type": "quantitative"}, "y": {"field": "v", "type": "quantitative"}}},
  {"data": {"name": "thr"}, "transform": [{"filter": "datum.p == 'd'"}], "mark": {"type": "rule", "strokeDash": [3, 2], "strokeWidth": 1}, "encoding": {"y": {"field": "v", "type": "quantitative"}, "stroke": {"field": "k", "type": "nominal", "scale": {"range": ["#e8453c"]}, "legend": {"title": null}}}}
 ]},
 {"width": 173, "height": 55, "title": "e) 交通流量", "layer": [
  {"data": {"name": "sep"}, "mark": {"type": "rule", "color": "#8c8c8c", "strokeDash": [3, 3], "strokeWidth": 0.8}, "encoding": {"x": {"field": "t", "type": "quantitative", "scale": {"domain": [-0.5, 59.5], "nice": false, "zero": false}, "axis": {"title": null, "values": [6.7, 30.1, 54.1], "labelExpr": "datum.value < 15 ? '梅雨期' : datum.value < 45 ? '盛夏期' : '秋雨期'"}}}},
  {"data": {"name": "band"}, "mark": {"type": "bar", "width": 3.6, "color": "#c7a0e6"}, "encoding": {"x": {"field": "t", "type": "quantitative"}, "y": {"field": "e", "type": "quantitative", "scale": {"domain": [0, 1.03], "nice": false}, "axis": {"title": null, "values": [0, 0.5, 1], "format": ".1f"}}, "y2": {"field": "e0"}}},
  {"data": {"name": "band"}, "mark": {"type": "circle", "size": 20, "color": "#c7a0e6", "opacity": 1}, "encoding": {"x": {"field": "t", "type": "quantitative"}, "y": {"field": "e", "type": "quantitative"}}},
  {"data": {"name": "band"}, "mark": {"type": "circle", "size": 20, "color": "#c7a0e6", "opacity": 1}, "encoding": {"x": {"field": "t", "type": "quantitative"}, "y": {"field": "e0", "type": "quantitative"}}},
  {"data": {"name": "pts"}, "transform": [{"filter": "datum.p == 'e'"}], "mark": {"type": "circle", "size": 20, "color": "#c7a0e6", "opacity": 0.85}, "encoding": {"x": {"field": "t", "type": "quantitative"}, "y": {"field": "v", "type": "quantitative"}}},
  {"data": {"name": "thr"}, "transform": [{"filter": "datum.p == 'e'"}], "mark": {"type": "rule", "strokeDash": [3, 2], "strokeWidth": 1}, "encoding": {"y": {"field": "v", "type": "quantitative"}, "stroke": {"field": "k", "type": "nominal", "scale": {"range": ["#e8453c"]}, "legend": {"title": null}}}}
 ]},
 {"width": 173, "height": 55, "title": "f) 交通站点", "layer": [
  {"data": {"name": "sep"}, "mark": {"type": "rule", "color": "#8c8c8c", "strokeDash": [3, 3], "strokeWidth": 0.8}, "encoding": {"x": {"field": "t", "type": "quantitative", "scale": {"domain": [-0.5, 59.5], "nice": false, "zero": false}, "axis": {"title": null, "values": [6.7, 30.1, 54.1], "labelExpr": "datum.value < 15 ? '梅雨期' : datum.value < 45 ? '盛夏期' : '秋雨期'"}}}},
  {"data": {"name": "band"}, "mark": {"type": "circle", "size": 20, "color": "#80cfa0", "opacity": 1}, "encoding": {"x": {"field": "t", "type": "quantitative"}, "y": {"field": "f2", "type": "quantitative", "scale": {"domain": [0, 0.56], "nice": false}, "axis": {"title": null, "values": [0, 0.2, 0.4], "format": ".1f"}}}},
  {"data": {"name": "band"}, "mark": {"type": "circle", "size": 20, "color": "#80cfa0", "opacity": 1}, "encoding": {"x": {"field": "t", "type": "quantitative"}, "y": {"datum": 0.0625, "type": "quantitative"}}},
  {"data": {"name": "pts"}, "transform": [{"filter": "datum.p == 'f'"}], "mark": {"type": "circle", "size": 20, "color": "#80cfa0", "opacity": 0.85}, "encoding": {"x": {"field": "t", "type": "quantitative"}, "y": {"field": "v", "type": "quantitative"}}},
  {"data": {"name": "thr"}, "transform": [{"filter": "datum.p == 'f'"}], "mark": {"type": "rule", "strokeDash": [3, 2], "strokeWidth": 1}, "encoding": {"y": {"field": "v", "type": "quantitative"}, "stroke": {"field": "k", "type": "nominal", "scale": {"range": ["#e8453c"]}, "legend": {"title": null}}}}
 ]},
 {"width": 173, "height": 55, "title": "g) 餐饮设施", "layer": [
  {"data": {"name": "sep"}, "mark": {"type": "rule", "color": "#8c8c8c", "strokeDash": [3, 3], "strokeWidth": 0.8}, "encoding": {"x": {"field": "t", "type": "quantitative", "scale": {"domain": [-0.5, 59.5], "nice": false, "zero": false}, "axis": {"title": null, "values": [6.7, 30.1, 54.1], "labelExpr": "datum.value < 15 ? '梅雨期' : datum.value < 45 ? '盛夏期' : '秋雨期'"}}}},
  {"data": {"name": "band"}, "mark": {"type": "bar", "width": 3.6, "color": "#f9c440"}, "encoding": {"x": {"field": "t", "type": "quantitative"}, "y": {"field": "g", "type": "quantitative", "scale": {"domain": [0, 0.98], "nice": false}, "axis": {"title": null, "values": [0, 0.5], "format": ".1f"}}}},
  {"data": {"name": "band"}, "mark": {"type": "circle", "size": 20, "color": "#f9c440", "opacity": 1}, "encoding": {"x": {"field": "t", "type": "quantitative"}, "y": {"field": "g", "type": "quantitative"}}},
  {"data": {"name": "pts"}, "transform": [{"filter": "datum.p == 'g'"}], "mark": {"type": "circle", "size": 20, "color": "#f9c440", "opacity": 0.85}, "encoding": {"x": {"field": "t", "type": "quantitative"}, "y": {"field": "v", "type": "quantitative"}}},
  {"data": {"name": "thr"}, "transform": [{"filter": "datum.p == 'g'"}], "mark": {"type": "rule", "strokeDash": [3, 2], "strokeWidth": 1}, "encoding": {"y": {"field": "v", "type": "quantitative"}, "stroke": {"field": "k", "type": "nominal", "scale": {"range": ["#e8453c"]}, "legend": {"title": null}}}}
 ]},
 {"width": 173, "height": 55, "title": "h) 生活设施", "layer": [
  {"data": {"name": "sep"}, "mark": {"type": "rule", "color": "#8c8c8c", "strokeDash": [3, 3], "strokeWidth": 0.8}, "encoding": {"x": {"field": "t", "type": "quantitative", "scale": {"domain": [-0.5, 59.5], "nice": false, "zero": false}, "axis": {"title": null, "values": [6.7, 30.1, 54.1], "labelExpr": "datum.value < 15 ? '梅雨期' : datum.value < 45 ? '盛夏期' : '秋雨期'"}}}},
  {"data": {"name": "band"}, "mark": {"type": "bar", "width": 3.6, "color": "#c1e183"}, "encoding": {"x": {"field": "t", "type": "quantitative"}, "y": {"field": "h", "type": "quantitative", "scale": {"domain": [0, 1.05], "nice": false}, "axis": {"title": null, "values": [0, 0.5, 1], "format": ".1f"}}}},
  {"data": {"name": "band"}, "mark": {"type": "circle", "size": 20, "color": "#c1e183", "opacity": 1}, "encoding": {"x": {"field": "t", "type": "quantitative"}, "y": {"field": "h", "type": "quantitative"}}},
  {"data": {"name": "pts"}, "transform": [{"filter": "datum.p == 'h'"}], "mark": {"type": "circle", "size": 20, "color": "#c1e183", "opacity": 0.85}, "encoding": {"x": {"field": "t", "type": "quantitative"}, "y": {"field": "v", "type": "quantitative"}}},
  {"data": {"name": "thr"}, "transform": [{"filter": "datum.p == 'h'"}], "mark": {"type": "rule", "strokeDash": [3, 2], "strokeWidth": 1}, "encoding": {"y": {"field": "v", "type": "quantitative"}, "stroke": {"field": "k", "type": "nominal", "scale": {"range": ["#e8453c"]}, "legend": {"title": null}}}}
 ]},
 {"width": 173, "height": 55, "title": "i) 医疗设施", "layer": [
  {"data": {"name": "sep"}, "mark": {"type": "rule", "color": "#8c8c8c", "strokeDash": [3, 3], "strokeWidth": 0.8}, "encoding": {"x": {"field": "t", "type": "quantitative", "scale": {"domain": [-0.5, 59.5], "nice": false, "zero": false}, "axis": {"title": null, "values": [6.7, 30.1, 54.1], "labelExpr": "datum.value < 15 ? '梅雨期' : datum.value < 45 ? '盛夏期' : '秋雨期'"}}}},
  {"data": {"name": "band"}, "transform": [{"fold": ["i3", "i4", "i5"], "as": ["kk", "vv"]}], "mark": {"type": "circle", "size": 20, "color": "#b37a7a", "opacity": 1}, "encoding": {"x": {"field": "t", "type": "quantitative"}, "y": {"field": "vv", "type": "quantitative", "scale": {"domain": [0, 0.37], "nice": false}, "axis": {"title": null, "values": [0, 0.2], "format": ".1f"}}}},
  {"data": {"name": "band"}, "mark": {"type": "circle", "size": 20, "color": "#b37a7a", "opacity": 1}, "encoding": {"x": {"field": "t", "type": "quantitative"}, "y": {"datum": 0.0294, "type": "quantitative"}}},
  {"data": {"name": "band"}, "mark": {"type": "circle", "size": 20, "color": "#b37a7a", "opacity": 1}, "encoding": {"x": {"field": "t", "type": "quantitative"}, "y": {"datum": 0.0588, "type": "quantitative"}}},
  {"data": {"name": "pts"}, "transform": [{"filter": "datum.p == 'i'"}], "mark": {"type": "circle", "size": 20, "color": "#b37a7a", "opacity": 0.85}, "encoding": {"x": {"field": "t", "type": "quantitative"}, "y": {"field": "v", "type": "quantitative"}}},
  {"data": {"name": "thr"}, "transform": [{"filter": "datum.p == 'i'"}], "mark": {"type": "rule", "strokeDash": [3, 2], "strokeWidth": 1}, "encoding": {"y": {"field": "v", "type": "quantitative"}, "stroke": {"field": "k", "type": "nominal", "scale": {"range": ["#e8453c"]}, "legend": {"title": null}}}}
 ]},
 {"width": 173, "height": 55, "title": "j) 游览设施", "layer": [
  {"data": {"name": "sep"}, "mark": {"type": "rule", "color": "#8c8c8c", "strokeDash": [3, 3], "strokeWidth": 0.8}, "encoding": {"x": {"field": "t", "type": "quantitative", "scale": {"domain": [-0.5, 59.5], "nice": false, "zero": false}, "axis": {"title": null, "values": [6.7, 30.1, 54.1], "labelExpr": "datum.value < 15 ? '梅雨期' : datum.value < 45 ? '盛夏期' : '秋雨期'"}}}},
  {"data": {"name": "band"}, "mark": {"type": "bar", "width": 3.6, "color": "#6e6e6e"}, "encoding": {"x": {"field": "t", "type": "quantitative"}, "y": {"field": "j", "type": "quantitative", "scale": {"domain": [0, 1.05], "nice": false}, "axis": {"title": null, "values": [0, 0.5, 1], "format": ".1f"}}}},
  {"data": {"name": "band"}, "mark": {"type": "circle", "size": 20, "color": "#6e6e6e", "opacity": 1}, "encoding": {"x": {"field": "t", "type": "quantitative"}, "y": {"field": "j", "type": "quantitative"}}},
  {"data": {"name": "pts"}, "transform": [{"filter": "datum.p == 'j'"}], "mark": {"type": "circle", "size": 20, "color": "#6e6e6e", "opacity": 0.85}, "encoding": {"x": {"field": "t", "type": "quantitative"}, "y": {"field": "v", "type": "quantitative"}}},
  {"data": {"name": "thr"}, "transform": [{"filter": "datum.p == 'j'"}], "mark": {"type": "rule", "strokeDash": [3, 2], "strokeWidth": 1}, "encoding": {"y": {"field": "v", "type": "quantitative"}, "stroke": {"field": "k", "type": "nominal", "scale": {"range": ["#e8453c"]}, "legend": {"title": null}}}}
 ]},
 {"width": 173, "height": 55, "title": "k) 购物设施", "layer": [
  {"data": {"name": "sep"}, "mark": {"type": "rule", "color": "#8c8c8c", "strokeDash": [3, 3], "strokeWidth": 0.8}, "encoding": {"x": {"field": "t", "type": "quantitative", "scale": {"domain": [-0.5, 59.5], "nice": false, "zero": false}, "axis": {"title": null, "values": [6.7, 30.1, 54.1], "labelExpr": "datum.value < 15 ? '梅雨期' : datum.value < 45 ? '盛夏期' : '秋雨期'"}}}},
  {"data": {"name": "band"}, "mark": {"type": "bar", "width": 3.6, "color": "#f07a7a"}, "encoding": {"x": {"field": "t", "type": "quantitative"}, "y": {"field": "k", "type": "quantitative", "scale": {"domain": [0, 0.66], "nice": false}, "axis": {"title": null, "values": [0, 0.25, 0.5], "format": ".2f"}}}},
  {"data": {"name": "band"}, "mark": {"type": "circle", "size": 20, "color": "#f07a7a", "opacity": 1}, "encoding": {"x": {"field": "t", "type": "quantitative"}, "y": {"field": "k", "type": "quantitative"}}},
  {"data": {"name": "pts"}, "transform": [{"filter": "datum.p == 'k'"}], "mark": {"type": "circle", "size": 20, "color": "#f07a7a", "opacity": 0.85}, "encoding": {"x": {"field": "t", "type": "quantitative"}, "y": {"field": "v", "type": "quantitative"}}},
  {"data": {"name": "thr"}, "transform": [{"filter": "datum.p == 'k'"}], "mark": {"type": "rule", "strokeDash": [3, 2], "strokeWidth": 1}, "encoding": {"y": {"field": "v", "type": "quantitative"}, "stroke": {"field": "k", "type": "nominal", "scale": {"range": ["#e8453c"]}, "legend": {"title": null}}}}
 ]},
 {"width": 173, "height": 55, "title": "l) 娱乐设施", "layer": [
  {"data": {"name": "sep"}, "mark": {"type": "rule", "color": "#8c8c8c", "strokeDash": [3, 3], "strokeWidth": 0.8}, "encoding": {"x": {"field": "t", "type": "quantitative", "scale": {"domain": [-0.5, 59.5], "nice": false, "zero": false}, "axis": {"title": null, "values": [6.7, 30.1, 54.1], "labelExpr": "datum.value < 15 ? '梅雨期' : datum.value < 45 ? '盛夏期' : '秋雨期'"}}}},
  {"data": {"name": "band"}, "mark": {"type": "bar", "width": 3.6, "color": "#f8a262"}, "encoding": {"x": {"field": "t", "type": "quantitative"}, "y": {"field": "l", "type": "quantitative", "scale": {"domain": [0, 0.9], "nice": false}, "axis": {"title": null, "values": [0, 0.5], "format": ".1f"}}}},
  {"data": {"name": "band"}, "mark": {"type": "circle", "size": 20, "color": "#f8a262", "opacity": 1}, "encoding": {"x": {"field": "t", "type": "quantitative"}, "y": {"field": "l", "type": "quantitative"}}},
  {"data": {"name": "pts"}, "transform": [{"filter": "datum.p == 'l'"}], "mark": {"type": "circle", "size": 20, "color": "#f8a262", "opacity": 0.85}, "encoding": {"x": {"field": "t", "type": "quantitative"}, "y": {"field": "v", "type": "quantitative"}}},
  {"data": {"name": "thr"}, "transform": [{"filter": "datum.p == 'l'"}], "mark": {"type": "rule", "strokeDash": [3, 2], "strokeWidth": 1}, "encoding": {"y": {"field": "v", "type": "quantitative"}, "stroke": {"field": "k", "type": "nominal", "scale": {"range": ["#e8453c"]}, "legend": {"title": null}}}}
 ]}
]
}
